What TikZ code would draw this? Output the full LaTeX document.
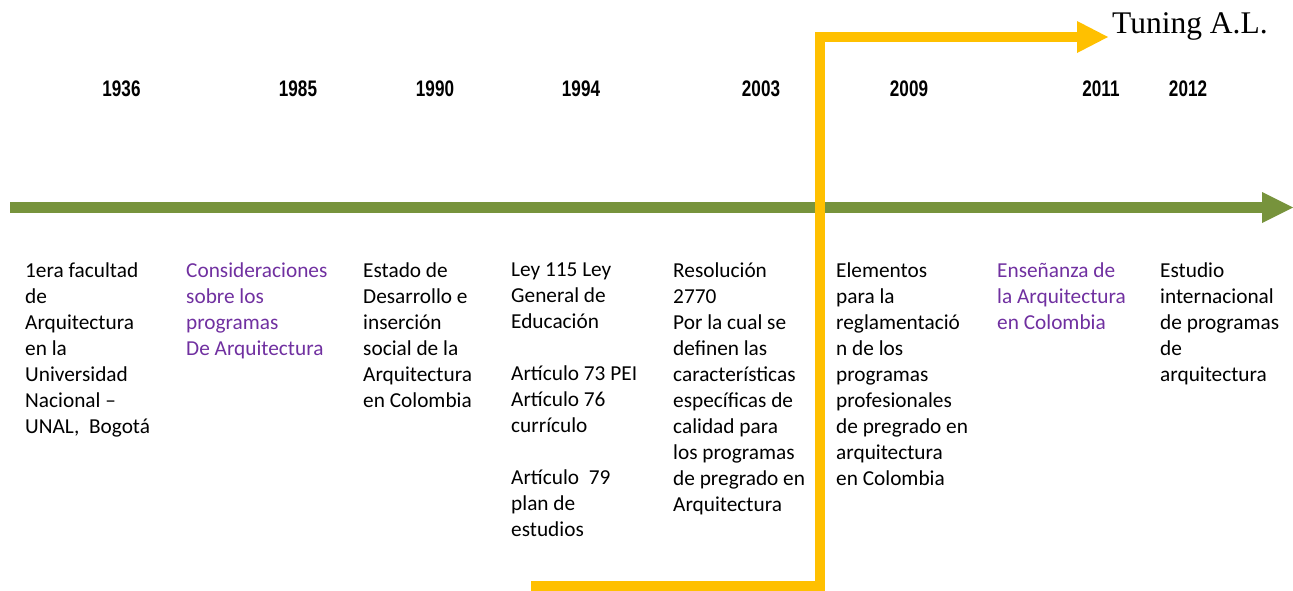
\documentclass[tikz,border=0pt]{standalone}
\usepackage{fontspec}
\setmainfont{Carlito}
\newfontfamily\yearfont{Liberation Sans}
\newfontfamily\timesfont{Liberation Serif}
\definecolor{olive}{RGB}{119,147,60}
\definecolor{amber}{RGB}{255,192,0}
\definecolor{violet}{RGB}{112,48,160}
\begin{document}
\begin{tikzpicture}[x=1pt,y=-1pt,
  year/.style={anchor=base,inner sep=0pt,xscale=0.76,font=\yearfont\bfseries\fontsize{22.5}{26}\selectfont},
  desc/.style={anchor=north west,inner sep=0pt,align=left,font=\fontsize{21.3}{26}\selectfont,execute at begin node=\strut},
  hl/.style={desc,text=violet},
  miter/.style={line join=miter,line cap=butt}]
\useasboundingbox (0,0) rectangle (1293,590);
% years
\node[year] (y1936) at (121.5,96.7) {1936};
\node[year] (y1985) at (298,96.7) {1985};
\node[year] (y1990) at (435,96.7) {1990};
\node[year] (y1994) at (581,96.7) {1994};
\node[year] (y2003) at (761,96.7) {2003};
\node[year] (y2009) at (909,96.7) {2009};
\node[year] (y2011) at (1101,96.7) {2011};
\node[year] (y2012) at (1188,96.7) {2012};
% timeline
\coordinate (gs) at (10,207.5);
\coordinate (ge) at (1262,207.5);
\draw[olive,line width=11pt,miter] (gs) -- (ge);
\fill[olive] (1262,192) -- (1293,207.5) -- (1262,223) -- cycle;
% yellow arrow
\coordinate (ya) at (531,586);
\coordinate (yb) at (820,586);
\coordinate (yc) at (820,37);
\coordinate (yd) at (1078,37);
\draw[amber,line width=10pt,miter] (ya) -- (yb) -- (yc) -- (yd);
\fill[amber] (1077,21) -- (1108,37) -- (1077,53) -- cycle;
\node[anchor=base west,inner sep=0pt,font=\timesfont\fontsize{31.5}{36}\selectfont] (tuning) at (1112,33) {Tuning A.L.};
% descriptions
\def\ty{262.5}
\node[desc] (d1936) at (25,\ty) {1era facultad\\de\\Arquitectura\\en la\\Universidad\\Nacional –\\UNAL,\ \ Bogotá};
\node[hl] (d1985) at (186,\ty) {Consideraciones\\sobre los\\programas\\De Arquitectura};
\node[desc] (d1990) at (363,\ty) {Estado de\\Desarrollo e\\inserción\\social de la\\Arquitectura\\en Colombia};
\node[desc] (d1994) at (511,\ty) {Ley 115 Ley\\General de\\Educación\\[26pt]Artículo 73 PEI\\Artículo 76\\currículo\\[26pt]Artículo\ \ 79\\plan de\\estudios};
\node[desc] (d2003) at (673,\ty) {Resolución\\2770\\Por la cual se\\definen las\\características\\específicas de\\calidad para\\los programas\\de pregrado en\\Arquitectura};
\node[desc] (d2009) at (836,\ty) {Elementos\\para la\\reglamentació\\n de los\\programas\\profesionales\\de pregrado en\\arquitectura\\en Colombia};
\node[hl] (d2011) at (997,\ty) {Enseñanza de\\la Arquitectura\\en Colombia};
\node[desc] (d2012) at (1160,\ty) {Estudio\\internacional\\de programas\\de\\arquitectura};
\end{tikzpicture}
\end{document}
